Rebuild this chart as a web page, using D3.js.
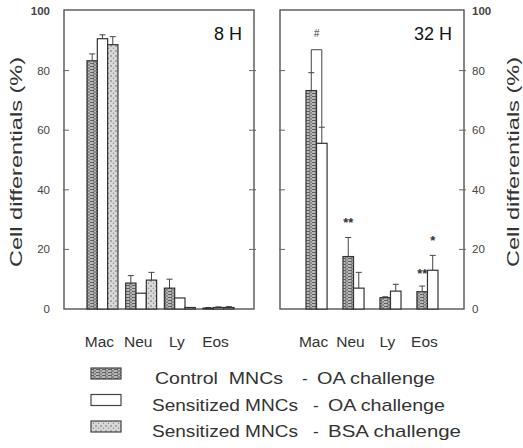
<!DOCTYPE html>
<html>
<head>
<meta charset="utf-8">
<script src="https://cdn.jsdelivr.net/npm/d3@7"></script>
<style>
  body { margin: 0; background: #fff; }
  svg text { font-family: "Liberation Sans", Arial, sans-serif; fill: #333; }
</style>
</head>
<body>
<svg id="vis" width="523" height="448"></svg>
<script>
// cell types on the x axis
let categories = ["Mac", "Neu", "Ly", "Eos"];
let yTicks = [0, 20, 40, 60, 80, 100];

// 8 H panel: three groups
let h8Control = [83.3, 8.7, 7.0, 0.3];
let h8ControlErr = [2.3, 2.5, 3.0, 0.2];
let h8SensOA = [90.7, 5.3, 3.7, 0.5];
let h8SensOAErr = [1.3, 0, 0, 0.2];
let h8SensBSA = [88.7, 9.7, 0.5, 0.5];
let h8SensBSAErr = [2.7, 2.6, 0, 0.3];

// 32 H panel: two groups
let h32Control = [73.3, 17.6, 3.8, 5.8];
let h32ControlErr = [6.0, 6.4, 0.3, 1.9];
let h32SensOA = [55.6, 7.0, 6.0, 13.0];
let h32SensOAErr = [5.4, 5.3, 2.3, 5.0];

let legendLabels = [
    ["Control  MNCs", "OA challenge"],
    ["Sensitized MNCs", "OA challenge"],
    ["Sensitized MNCs", "BSA challenge"]
];
let seriesKeys = ["control", "sensOA", "sensBSA"];

let svg = d3.select("#vis");

// patterns
let defs = svg.append("defs");
let pCtrl = defs.append("pattern")
    .attr("id", "p-control").attr("patternUnits", "userSpaceOnUse")
    .attr("width", 6).attr("height", 3);
pCtrl.append("rect").attr("width", 6).attr("height", 3).attr("fill", "#b8b8b8");
pCtrl.append("path").attr("d", "M0,0.5H4M3,2H6").attr("stroke", "#555").attr("stroke-width", 0.9);

let pBsa = defs.append("pattern")
    .attr("id", "p-bsa").attr("patternUnits", "userSpaceOnUse")
    .attr("width", 5).attr("height", 5);
pBsa.append("rect").attr("width", 5).attr("height", 5).attr("fill", "#d8d8d8");
pBsa.append("circle").attr("cx", 1).attr("cy", 1).attr("r", 0.8).attr("fill", "#666");
pBsa.append("circle").attr("cx", 3.5).attr("cy", 3.2).attr("r", 0.7).attr("fill", "#888");

let fills = {control: "url(#p-control)", sensOA: "#fff", sensBSA: "url(#p-bsa)"};

let y = d3.scaleLinear().domain([0, 100]).range([309, 11]);

function drawPanel(cfg) {
    let g = svg.append("g");
    // frame
    g.append("rect")
        .attr("x", cfg.frame[0]).attr("y", y(100) - 1)
        .attr("width", cfg.frame[1] - cfg.frame[0])
        .attr("height", y(0) - y(100) + 1)
        .attr("fill", "none").attr("stroke", "#555").attr("stroke-width", 1.4);

    // inner ticks on both sides
    yTicks.slice(1, -1).forEach(function (t) {
        g.append("line").attr("x1", cfg.frame[0] - 1).attr("x2", cfg.frame[0] + 5)
            .attr("y1", y(t)).attr("y2", y(t)).attr("stroke", "#666").attr("stroke-width", 1);
        g.append("line").attr("x1", cfg.frame[1] - 5).attr("x2", cfg.frame[1] + 2)
            .attr("y1", y(t)).attr("y2", y(t)).attr("stroke", "#666").attr("stroke-width", 1);
    });

    let x0 = d3.scaleBand().domain(categories).range(cfg.range)
        .paddingInner(cfg.padInner).paddingOuter(0);
    let x1 = d3.scaleBand().domain(cfg.series.map(s => s.key))
        .range([0, x0.bandwidth()]);

    cfg.series.forEach(function (s) {
        let bars = g.selectAll(null).data(categories.map((c, i) => ({c: c, v: s.values[i], e: s.err[i]})))
            .enter();
        bars.append("line")
            .filter(d => d.e > 0)
            .attr("x1", d => x0(d.c) + x1(s.key) + x1.bandwidth() / 2)
            .attr("x2", d => x0(d.c) + x1(s.key) + x1.bandwidth() / 2)
            .attr("y1", d => y(d.v)).attr("y2", d => y(d.v + d.e))
            .attr("stroke", "#444").attr("stroke-width", 1);
        bars.append("line")
            .filter(d => d.e > 0)
            .attr("x1", d => x0(d.c) + x1(s.key) + x1.bandwidth() / 2 - 3)
            .attr("x2", d => x0(d.c) + x1(s.key) + x1.bandwidth() / 2 + 3)
            .attr("y1", d => y(d.v + d.e)).attr("y2", d => y(d.v + d.e))
            .attr("stroke", "#444").attr("stroke-width", 1);
        bars.append("rect")
            .attr("x", d => x0(d.c) + x1(s.key))
            .attr("y", d => y(d.v))
            .attr("width", x1.bandwidth())
            .attr("height", d => y(0) - y(d.v))
            .attr("fill", fills[s.key])
            .attr("stroke", "#333").attr("stroke-width", 1.2);
    });

    // category labels
    g.selectAll(null).data(categories).enter().append("text")
        .attr("x", d => x0(d) + x0.bandwidth() / 2 - 3)
        .attr("y", 347)
        .attr("text-anchor", "middle")
        .attr("font-size", 15.5)
        .text(d => d);

    // panel title
    g.append("text")
        .attr("x", cfg.frame[1] - 12).attr("y", 40)
        .attr("text-anchor", "end")
        .attr("font-size", 18)
        .style("fill", "#111")
        .text(cfg.title);

    return {g: g, x0: x0, x1: x1};
}

let left = drawPanel({
    title: "8 H",
    frame: [64, 254],
    range: [87, 234],
    padInner: 0.2,
    series: [
        {key: "control", values: h8Control, err: h8ControlErr},
        {key: "sensOA", values: h8SensOA, err: h8SensOAErr},
        {key: "sensBSA", values: h8SensBSA, err: h8SensBSAErr}
    ]
});

let right = drawPanel({
    title: "32 H",
    frame: [280, 464],
    range: [306, 438],
    padInner: 0.43,
    series: [
        {key: "control", values: h32Control, err: h32ControlErr},
        {key: "sensOA", values: h32SensOA, err: h32SensOAErr}
    ]
});

// y axis labels
svg.selectAll(null).data(yTicks).enter().append("text")
    .attr("x", 50).attr("y", d => y(d) + 4)
    .attr("text-anchor", "end").attr("font-size", 11.5)
    .style("fill", "#444")
    .style("font-weight", d => d === 100 ? "bold" : "normal")
    .text(d => d);
svg.selectAll(null).data(yTicks).enter().append("text")
    .attr("x", 472).attr("y", d => y(d) + 4)
    .attr("text-anchor", "start").attr("font-size", 11.5)
    .style("fill", "#444")
    .style("font-weight", d => d === 100 ? "bold" : "normal")
    .text(d => d);

// axis titles (stretched, like the scan)
svg.append("text")
    .attr("transform", "translate(22,162) rotate(-90)")
    .attr("text-anchor", "middle").attr("font-size", 17)
    .attr("textLength", 210).attr("lengthAdjust", "spacingAndGlyphs")
    .text("Cell differentials (%)");
svg.append("text")
    .attr("transform", "translate(519,162) rotate(-90)")
    .attr("text-anchor", "middle").attr("font-size", 16)
    .attr("textLength", 210).attr("lengthAdjust", "spacingAndGlyphs")
    .text("Cell differentials (%)");

// significance marks (32 H)
let rx0 = right.x0, rx1 = right.x1;
let cx = (c, k) => rx0(c) + rx1(k) + rx1.bandwidth() / 2;
let bracketY = y(87);
right.g.append("path")
    .attr("d", "M" + cx("Mac", "control") + "," + y(h32Control[0] + h32ControlErr[0]) +
        "V" + bracketY + "H" + cx("Mac", "sensOA") + "V" + y(h32SensOA[0] + h32SensOAErr[0]))
    .attr("fill", "none").attr("stroke", "#444").attr("stroke-width", 1);
right.g.append("text")
    .attr("x", (cx("Mac", "control") + cx("Mac", "sensOA")) / 2).attr("y", bracketY - 13)
    .attr("text-anchor", "middle").attr("font-size", 10).style("font-style", "italic").text("#");
right.g.append("text")
    .attr("x", cx("Neu", "control")).attr("y", y(27.5))
    .attr("text-anchor", "middle").attr("font-size", 13).style("font-weight", "bold").text("**");
right.g.append("text")
    .attr("x", cx("Eos", "control")).attr("y", y(10.5))
    .attr("text-anchor", "middle").attr("font-size", 13).style("font-weight", "bold").text("**");
right.g.append("text")
    .attr("x", cx("Eos", "sensOA")).attr("y", y(21.5))
    .attr("text-anchor", "middle").attr("font-size", 13).style("font-weight", "bold").text("*");

// legend
let legendPos = [
    {name: [155, 128], dash: 302, ch: [317, 118]},
    {name: [152, 146], dash: 313, ch: [328, 117]},
    {name: [152, 146], dash: 313, ch: [328, 133]}
];
let legend = svg.append("g");
legendLabels.forEach(function (lab, i) {
    let yy = 368 + i * 26.5;
    let p = legendPos[i];
    legend.append("rect")
        .attr("x", 91).attr("y", yy).attr("width", 30).attr("height", 11)
        .attr("fill", fills[seriesKeys[i]])
        .attr("stroke", "#444").attr("stroke-width", 1.2);
    let ty = yy + 16;
    legend.append("text").attr("x", p.name[0]).attr("y", ty).attr("font-size", 17)
        .style("white-space", "pre")
        .attr("textLength", p.name[1]).attr("lengthAdjust", "spacingAndGlyphs")
        .text(lab[0]);
    legend.append("text").attr("x", p.dash).attr("y", ty).attr("font-size", 17).text("-");
    legend.append("text").attr("x", p.ch[0]).attr("y", ty).attr("font-size", 17)
        .attr("textLength", p.ch[1]).attr("lengthAdjust", "spacingAndGlyphs")
        .text(lab[1]);
});
</script>
</body>
</html>
